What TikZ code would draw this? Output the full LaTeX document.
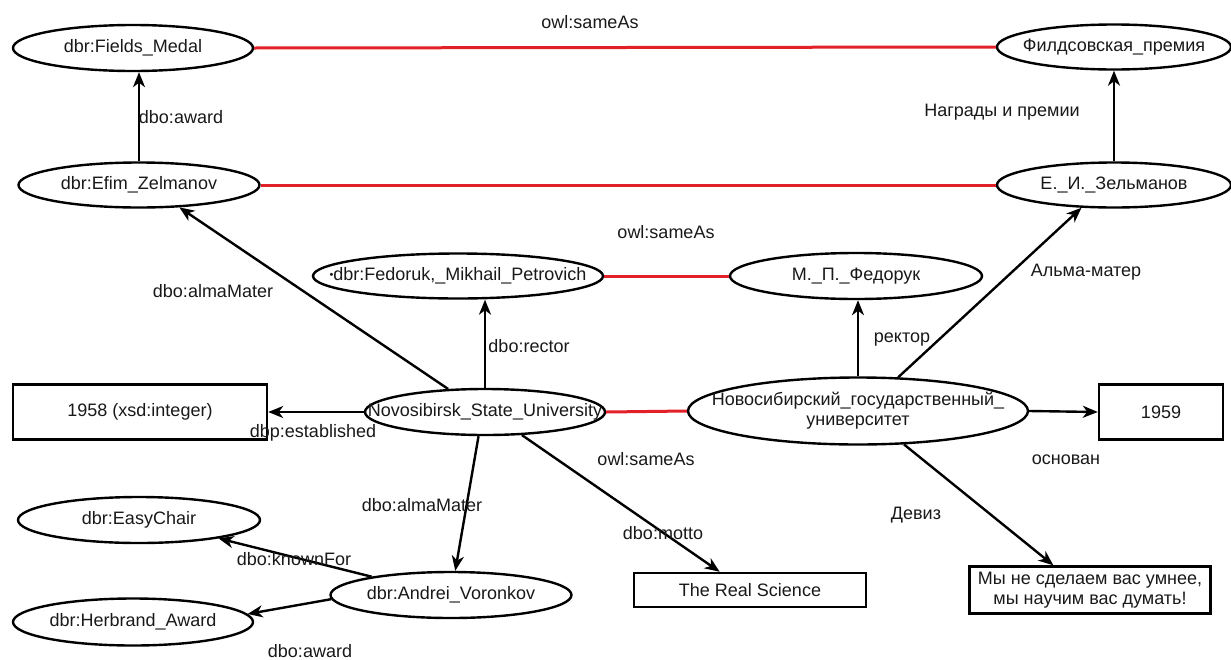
\documentclass[tikz,border=0pt]{standalone}
\usepackage{fontspec}
\setmainfont{Liberation Sans}
\usetikzlibrary{shapes.geometric,arrows.meta}
\definecolor{redline}{RGB}{226,32,40}
\definecolor{txtgray}{RGB}{25,25,25}
\newcommand{\ctext}[1]{\makebox[0pt]{#1}}
\newcommand{\twoline}[2]{\makebox[0pt]{\begin{tabular}{@{}c@{}}#1\\#2\end{tabular}}}
\begin{document}
\begin{tikzpicture}[x=1pt,y=-1pt,
  font=\fontsize{18}{20}\selectfont,
  ell/.style={draw=black,line width=2.4pt,ellipse,inner sep=0pt,text=txtgray},
  box/.style={draw=black,line width=2.4pt,rectangle,inner sep=0pt,text=txtgray},
  arr/.style={draw=black,line width=2.4pt,-{Stealth[length=15pt,width=12pt,inset=4.5pt]}},
  same/.style={draw=redline,line width=3pt},
  lbl/.style={inner sep=0pt,text=txtgray}
]
\useasboundingbox[fill=white] (0,0) rectangle (1231,659);

% nodes
\node[ell,minimum width=240pt,minimum height=46pt] (fm)   at (133,48)  {\ctext{dbr:Fields\_Medal}};
\node[ell,minimum width=234pt,minimum height=45pt] (fil)  at (1114,47) {\ctext{Филдсовская\_премия}};
\node[ell,minimum width=241pt,minimum height=45pt] (efim) at (139,185) {\ctext{dbr:Efim\_Zelmanov}};
\node[ell,minimum width=234pt,minimum height=45pt] (ezr)  at (1114,185) {\ctext{Е.\_И.\_Зельманов}};
\node[ell,minimum width=290pt,minimum height=45pt] (fed)  at (458,276) {\ctext{\raisebox{2.5pt}{\fontsize{11}{11}\selectfont •}dbr:Fedoruk,\_Mikhail\_Petrovich}};
\node[ell,minimum width=252pt,minimum height=46pt] (mpf)  at (856,276) {\ctext{М.\_П.\_Федорук}};
\node[ell,minimum width=240pt,minimum height=46pt] (nsu)  at (485,412) {\ctext{Novosibirsk\_State\_University}};
\node[ell,minimum width=340pt,minimum height=67pt] (ngu)  at (858,411) {\twoline{Новосибирский\_государственный\_}{университет}};
\node[box,minimum width=254pt,minimum height=55pt] (d1958) at (140,412) {\ctext{1958 (xsd:integer)}};
\node[box,minimum width=124pt,minimum height=55pt] (d1959) at (1161,412) {\ctext{1959}};
\node[ell,minimum width=242pt,minimum height=46pt] (ec)   at (139,520) {\ctext{dbr:EasyChair}};
\node[ell,minimum width=241pt,minimum height=46pt] (vor)  at (451,595) {\ctext{dbr:Andrei\_Voronkov}};
\node[ell,minimum width=240pt,minimum height=47pt] (hb)   at (133,622) {\ctext{dbr:Herbrand\_Award}};
\node[box,minimum width=232pt,minimum height=34pt] (trs)  at (750,590) {\ctext{The Real Science}};
\node[box,minimum width=241pt,minimum height=47pt] (motto) at (1090,590) {\twoline{Мы не сделаем вас умнее,}{мы научим вас думать!}};

% sameAs links
\draw[same] (fm.east) -- (fil.west);
\draw[same] (efim.east) -- (ezr.west);
\draw[same] (fed.east) -- (mpf.west);
\draw[same] (nsu.east) -- (ngu.west);

% arrows
\draw[arr] (efim.north) -- (fm.south -| efim.north);
\draw[arr] (ezr.north) -- (fil.south);
\draw[arr] (nsu.148) -- (efim.-29);
\draw[arr] (nsu.north) -- (fed.south -| nsu.north);
\draw[arr] (nsu.west) -- (d1958.east);
\draw[arr] (nsu.-105) -- (vor.80);
\draw[arr] (nsu.-32) -- (trs.149);
\draw[arr] (ngu.north) -- (mpf.south -| ngu.north);
\draw[arr] (ngu.40) -- (ezr.-145);
\draw[arr] (ngu.east) -- (d1959.west);
\draw[arr] (ngu.-36) -- (motto.146);
\draw[arr] (vor.167) -- (ec.-13);
\draw[arr] (vor.182) -- (hb.4);

% labels
\node[lbl] (l1)  at (590,22)  {owl:sameAs};
\node[lbl] (l2)  at (181,117) {dbo:award};
\node[lbl] (l3)  at (1002,112) {Награды и премии};
\node[lbl] (l4)  at (666,232) {owl:sameAs};
\node[lbl] (l5)  at (213,291) {dbo:almaMater};
\node[lbl] (l6)  at (1086,272) {Альма-матер};
\node[lbl] (l7)  at (529,346) {dbo:rector};
\node[lbl] (l8)  at (902,340) {ректор};
\node[lbl] (l9)  at (313,433) {dbp:established};
\node[lbl] (l10) at (646,459) {owl:sameAs};
\node[lbl] (l11) at (1066,460) {основан};
\node[lbl] (l12) at (422,505) {dbo:almaMater};
\node[lbl] (l13) at (916,515) {Девиз};
\node[lbl] (l14) at (663,533) {dbo:motto};
\node[lbl] (l15) at (294,559) {dbo:knownFor};
\node[lbl] (l16) at (310,651) {dbo:award};
\end{tikzpicture}
\end{document}
